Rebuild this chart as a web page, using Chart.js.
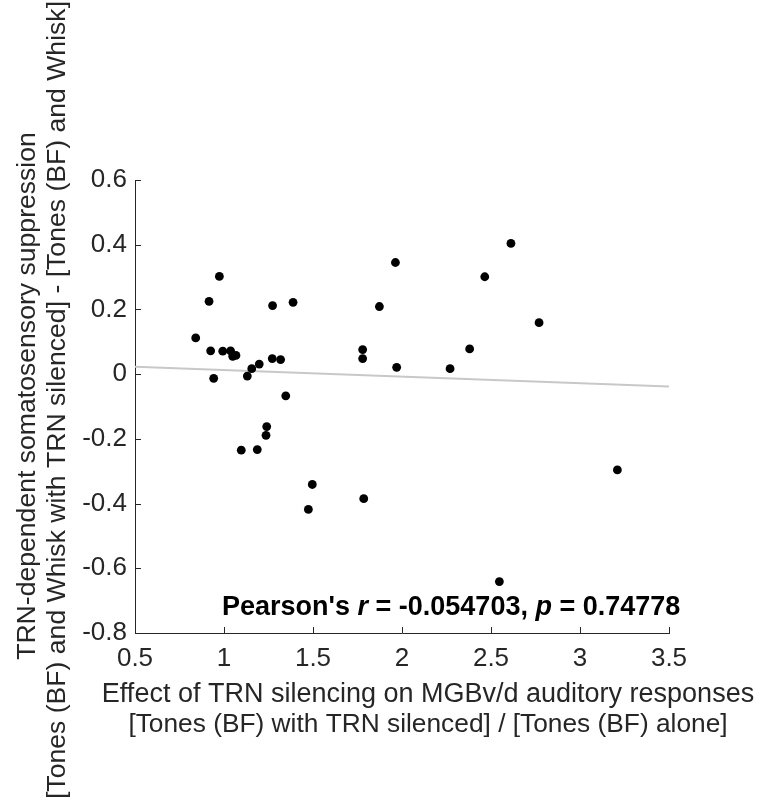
<!DOCTYPE html>
<html><head><meta charset="utf-8">
<script src="https://cdn.jsdelivr.net/npm/chart.js@4.4.1/dist/chart.umd.min.js"></script>
<style>html,body{margin:0;padding:0;background:#fff;}canvas{display:block;}</style>
</head><body>
<canvas id="c" width="760" height="801"></canvas>
<script>
const xValues = [0.841,0.916,0.974,0.925,0.993,1.037,1.049,1.067,0.942,1.131,1.156,1.198,1.271,1.318,1.273,1.388,1.347,1.240,1.236,1.097,1.187,1.779,1.779,1.873,1.963,1.970,1.496,1.474,1.785,2.612,2.465,2.770,2.380,2.270,3.210,2.547];
const yValues = [0.112,0.225,0.302,0.072,0.071,0.072,0.055,0.058,-0.013,-0.006,0.017,0.031,0.048,0.045,0.212,0.222,-0.067,-0.162,-0.189,-0.235,-0.233,0.076,0.048,0.209,0.345,0.021,-0.341,-0.418,-0.385,0.404,0.301,0.159,0.078,0.017,-0.296,-0.641];
const fitX = [0.5, 3.5];
const fitY = [0.0225, -0.038];
const xTicks = [0.5,1,1.5,2,2.5,3,3.5];
const yTicks = [-0.8,-0.6,-0.4,-0.2,0,0.2,0.4,0.6];
const xTitle = ['Effect of TRN silencing on MGBv/d auditory responses','[Tones (BF) with TRN silenced] / [Tones (BF) alone]'];
const yTitle = ['TRN-dependent somatosensory suppression','[Tones (BF) and Whisk with TRN silenced] - [Tones (BF) and Whisk]'];
const statR = -0.054703;
const statP = 0.74778;

const FAM = '"Liberation Sans", Arial, Helvetica, sans-serif';
const AX = '#262626';

const pts = xValues.map((x,i)=>({x, y: yValues[i]}));
const fit = fitX.map((x,i)=>({x, y: fitY[i]}));
const fmt = v => String(Math.round(v*10)/10);

const decor = {
  id: 'decor',
  afterDraw(chart) {
    const ctx = chart.ctx, xs = chart.scales.x, ys = chart.scales.y, a = chart.chartArea;
    ctx.save();
    // inward ticks
    ctx.strokeStyle = AX; ctx.lineWidth = 1;
    ctx.beginPath();
    xTicks.forEach(v => { const p = Math.round(xs.getPixelForValue(v)) + 0.5; ctx.moveTo(p, a.bottom); ctx.lineTo(p, a.bottom - 6); });
    yTicks.forEach(v => { const p = Math.round(ys.getPixelForValue(v)) + 0.5; ctx.moveTo(a.left, p); ctx.lineTo(a.left + 6, p); });
    ctx.stroke();
    // axis titles
    ctx.fillStyle = AX;
    ctx.textAlign = 'center'; ctx.textBaseline = 'alphabetic';
    ctx.font = '27px ' + FAM;
    ctx.fillText(xTitle[0], 428, 702);
    ctx.font = '26.3px ' + FAM;
    ctx.fillText(xTitle[1], 428, 732);
    ctx.font = '26.6px ' + FAM;
    [[35, 396], [65, 400]].forEach(([bx, cy], i) => {
      ctx.save(); ctx.translate(bx, cy); ctx.rotate(-Math.PI/2);
      ctx.fillText(yTitle[i], 0, 0); ctx.restore();
    });
    // stats annotation
    const parts = [["Pearson's ", false], ['r', true], [' = ' + String(statR) + ', ', false], ['p', true], [' = ' + String(statP), false]];
    let x = xs.getPixelForValue(0.989);
    const y = ys.getPixelForValue(-0.743);
    ctx.fillStyle = '#000'; ctx.textAlign = 'left';
    parts.forEach(([t, it]) => {
      ctx.font = (it ? 'italic ' : '') + 'bold 27px ' + FAM;
      ctx.fillText(t, x, y);
      x += ctx.measureText(t).width;
    });
    ctx.restore();
  }
};

new Chart(document.getElementById('c'), {
  type: 'scatter',
  data: { datasets: [
    { type: 'scatter', data: pts, backgroundColor: '#000', borderWidth: 0, pointRadius: 4.4, order: 1 },
    { type: 'line', data: fit, borderColor: '#c8c8c8', borderWidth: 2, pointRadius: 0, fill: false, order: 2 }
  ]},
  options: {
    responsive: false, animation: false, devicePixelRatio: 1,
    layout: { padding: { top: 180, right: 91, left: 0, bottom: 0 } },
    plugins: { legend: { display: false }, tooltip: { enabled: false } },
    scales: {
      x: { type: 'linear', min: 0.5, max: 3.5,
        afterBuildTicks: s => { s.ticks = xTicks.map(v => ({ value: v })); },
        afterFit: s => { s.height = 168; },
        ticks: { callback: fmt, font: { size: 26, family: FAM }, color: AX, padding: 10, maxRotation: 0, autoSkip: false },
        grid: { display: true, drawOnChartArea: false, drawTicks: false },
        border: { display: true, color: AX, width: 1 } },
      y: { type: 'linear', min: -0.8, max: 0.6,
        afterBuildTicks: s => { s.ticks = yTicks.map(v => ({ value: v })); },
        afterFit: s => { s.width = 135; },
        ticks: { callback: fmt, font: { size: 26, family: FAM }, color: AX, padding: 8, autoSkip: false },
        grid: { display: true, drawOnChartArea: false, drawTicks: false },
        border: { display: true, color: AX, width: 1 } }
    }
  },
  plugins: [decor]
});
</script>
</body></html>
